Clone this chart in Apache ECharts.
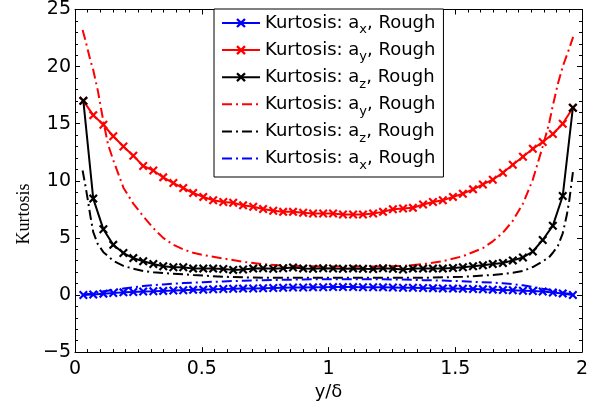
<!DOCTYPE html>
<html><head><meta charset="utf-8">
<script src="https://cdn.jsdelivr.net/npm/echarts@6/dist/echarts.min.js"></script>
<style>html,body{margin:0;padding:0;background:#fff}#c{width:605px;height:406px}</style>
</head><body><div id="c"></div>
<script>
// x positions of the marked (solid) curves
const xMarked = [0.033, 0.072, 0.112, 0.151, 0.191, 0.230, 0.269, 0.309, 0.348, 0.388,
  0.427, 0.466, 0.506, 0.545, 0.585, 0.624, 0.663, 0.703, 0.742, 0.782,
  0.821, 0.860, 0.900, 0.939, 0.979, 1.018, 1.057, 1.097, 1.136, 1.176,
  1.215, 1.254, 1.294, 1.333, 1.373, 1.412, 1.451, 1.491, 1.530, 1.570,
  1.609, 1.648, 1.688, 1.727, 1.767, 1.806, 1.845, 1.885, 1.924, 1.964];
const kurtAxSolid = [0.0, 0.05, 0.12, 0.18, 0.23, 0.27, 0.3, 0.33, 0.36, 0.39,
  0.42, 0.45, 0.47, 0.5, 0.52, 0.54, 0.56, 0.57, 0.59, 0.61,
  0.63, 0.65, 0.66, 0.67, 0.68, 0.69, 0.69, 0.69, 0.68, 0.68,
  0.67, 0.66, 0.64, 0.63, 0.61, 0.6, 0.58, 0.56, 0.54, 0.52,
  0.5, 0.47, 0.44, 0.41, 0.38, 0.35, 0.3, 0.22, 0.14, 0.0];
const kurtAySolid = [17.0, 15.75, 14.9, 13.9, 13.0, 12.2, 11.3, 10.9, 10.3, 9.8,
  9.37, 8.93, 8.59, 8.3, 8.15, 8.07, 7.85, 7.72, 7.53, 7.37,
  7.28, 7.28, 7.2, 7.14, 7.14, 7.14, 7.05, 7.05, 7.05, 7.14,
  7.28, 7.51, 7.57, 7.63, 7.92, 8.15, 8.29, 8.59, 8.87, 9.25,
  9.68, 10.1, 10.7, 11.4, 12.1, 12.8, 13.4, 14.1, 15.0, 16.4];
const kurtAzSolid = [17.0, 8.44, 5.75, 4.39, 3.67, 3.23, 2.95, 2.71, 2.51, 2.43,
  2.43, 2.31, 2.31, 2.31, 2.28, 2.2, 2.23, 2.31, 2.35, 2.3,
  2.35, 2.4, 2.33, 2.3, 2.35, 2.32, 2.3, 2.33, 2.3, 2.28,
  2.35, 2.3, 2.23, 2.31, 2.31, 2.31, 2.31, 2.37, 2.43, 2.51,
  2.6, 2.71, 2.8, 3.03, 3.29, 3.81, 4.82, 6.07, 8.67, 16.4];

// x positions of the dash-dot curves
const xDash = [0.030, 0.040, 0.050, 0.060, 0.072, 0.090, 0.112, 0.130, 0.151, 0.191,
  0.230, 0.269, 0.309, 0.348, 0.388, 0.427, 0.466, 0.506, 0.585, 0.663,
  0.742, 0.821, 0.900, 0.979, 1.057, 1.136, 1.215, 1.294, 1.373, 1.451,
  1.530, 1.609, 1.648, 1.688, 1.727, 1.767, 1.806, 1.845, 1.870, 1.885,
  1.905, 1.924, 1.940, 1.950, 1.965];
const kurtAyDash = [23.2, 22.4, 21.5, 20.6, 19.7, 17.9, 15.2, 13.2, 11.8, 9.4,
  8.0, 6.9, 5.85, 5.0, 4.4, 4.0, 3.7, 3.5, 3.2, 2.9,
  2.7, 2.58, 2.52, 2.5, 2.5, 2.5, 2.5, 2.55, 2.7, 2.95,
  3.4, 4.1, 4.7, 5.45, 6.5, 8.0, 10.1, 13.0, 15.0, 16.6,
  18.5, 20.0, 21.0, 21.6, 22.6];
const kurtAzDash = [10.9, 9.7, 8.4, 7.0, 5.5, 4.45, 3.75, 3.4, 3.0, 2.55,
  2.3, 2.1, 2.0, 1.92, 1.87, 1.82, 1.75, 1.7, 1.6, 1.55,
  1.5, 1.5, 1.5, 1.5, 1.5, 1.5, 1.5, 1.5, 1.5, 1.55,
  1.6, 1.7, 1.76, 1.85, 1.95, 2.1, 2.45, 2.95, 3.3, 3.7,
  4.3, 5.4, 7.0, 8.3, 10.9];
const kurtAxDash = [0.0, 0.04, 0.08, 0.12, 0.17, 0.24, 0.32, 0.38, 0.45, 0.57,
  0.68, 0.78, 0.86, 0.93, 0.99, 1.04, 1.08, 1.12, 1.19, 1.25,
  1.3, 1.33, 1.36, 1.38, 1.38, 1.38, 1.37, 1.35, 1.3, 1.26,
  1.2, 1.12, 1.08, 1.03, 0.95, 0.85, 0.7, 0.55, 0.46, 0.4,
  0.3, 0.2, 0.13, 0.08, 0.0];

const xTickValues = [0, 0.5, 1, 1.5, 2];
const xTickLabels = ['0', '0.5', '1', '1.5', '2'];
const yTickValues = [-5, 0, 5, 10, 15, 20, 25];
const yTickLabels = ['\u22125', '0', '5', '10', '15', '20', '25'];

const seriesNames = ['axS', 'ayS', 'azS', 'ayD', 'azD', 'axD'];
const legendSub = {axS: 'x', ayS: 'y', azS: 'z', ayD: 'y', azD: 'z', axD: 'x'};

const XSYM = 'path://M0,1.7L1.7,0L5,3.3L8.3,0L10,1.7L6.7,5L10,8.3L8.3,10L5,6.7L1.7,10L0,8.3L3.3,5Z';
const DASHDOT = [10, 4, 2, 4];

function pairs(xs, ys) { return xs.map((x, i) => [x, ys[i]]); }

function lookup(vals, labs, v) {
  for (let i = 0; i < vals.length; i++) if (Math.abs(vals[i] - v) < 1e-9) return labs[i];
  return '';
}

const FONT = 'DejaVu Sans';

function solid(name, color, xs, ys) {
  return {
    name, type: 'line', data: pairs(xs, ys), symbol: XSYM, symbolSize: 9, showSymbol: true,
    lineStyle: {color, width: 2}, itemStyle: {color}, animation: false, z: 3
  };
}
function dash(name, color, xs, ys) {
  return {
    name, type: 'line', data: pairs(xs, ys), symbol: 'none',
    lineStyle: {color, width: 2, type: DASHDOT}, itemStyle: {color}, animation: false, z: 2
  };
}

const axisCommon = {
  axisLine: {show: true, onZero: false, lineStyle: {color: '#000', width: 1}},
  axisTick: {show: true, inside: true, length: 5, lineStyle: {color: '#000', width: 1}},
  splitLine: {show: false}
};

const legendData = seriesNames.map(n => n.endsWith('D') ? {name: n, itemStyle: {opacity: 0}} : {name: n});

const chart = echarts.init(document.getElementById('c'), null, {renderer: 'canvas'});
chart.setOption({
  animation: false,
  backgroundColor: '#fff',
  grid: {left: 75, right: 23, top: 9, bottom: 51, containLabel: false},
  xAxis: [
    Object.assign({}, axisCommon, {
      type: 'value', min: 0, max: 2, interval: 0.5, position: 'bottom',
      minorTick: {show: true, splitNumber: 10, length: 3, lineStyle: {color: '#000', width: 1}},
      axisLabel: {color: '#000', fontFamily: FONT, fontSize: 19, margin: 7,
        formatter: v => lookup(xTickValues, xTickLabels, v)},
      name: 'y/\u03b4', nameLocation: 'middle', nameGap: 24,
      nameTextStyle: {color: '#000', fontFamily: FONT, fontSize: 18}
    }),
    Object.assign({}, axisCommon, {
      type: 'value', min: 0, max: 2, interval: 0.5, position: 'top',
      minorTick: {show: true, splitNumber: 10, length: 3, lineStyle: {color: '#000', width: 1}},
      axisLabel: {show: false}
    })
  ],
  yAxis: [
    Object.assign({}, axisCommon, {
      type: 'value', min: -5, max: 25, interval: 5, position: 'left',
      minorTick: {show: true, splitNumber: 5, length: 3, lineStyle: {color: '#000', width: 1}},
      axisLabel: {color: '#000', fontFamily: FONT, fontSize: 19, margin: 4,
        formatter: v => lookup(yTickValues, yTickLabels, v)}
    }),
    Object.assign({}, axisCommon, {
      type: 'value', min: -5, max: 25, interval: 5, position: 'right',
      minorTick: {show: true, splitNumber: 5, length: 3, lineStyle: {color: '#000', width: 1}},
      axisLabel: {show: false}
    })
  ],
  legend: {
    orient: 'vertical', left: 214, top: 9,
    padding: [5, 8, 5, 7], itemGap: 4.6, itemWidth: 38, itemHeight: 12,
    borderColor: '#000', borderWidth: 1, backgroundColor: '#fff',
    data: legendData,
    formatter: name => '{n|Kurtosis: a}{s|' + legendSub[name] + '}{n|, Rough}',
    textStyle: {
      color: '#000', fontFamily: FONT, fontSize: 18,
      rich: {
        n: {fontFamily: FONT, fontSize: 18, color: '#000'},
        s: {fontFamily: FONT, fontSize: 13, color: '#000', padding: [14, 0, 0, 0]}
      }
    }
  },
  graphic: [{
    type: 'text', x: 24, y: 214, rotation: Math.PI / 2,
    style: {text: 'Kurtosis', font: '18px "Liberation Serif"', fill: '#000', align: 'center', verticalAlign: 'middle'}
  }],
  series: [
    solid('axS', '#0000ff', xMarked, kurtAxSolid),
    solid('ayS', '#ff0000', xMarked, kurtAySolid),
    solid('azS', '#000000', xMarked, kurtAzSolid),
    dash('ayD', '#ff0000', xDash, kurtAyDash),
    dash('azD', '#000000', xDash, kurtAzDash),
    dash('axD', '#0000ff', xDash, kurtAxDash)
  ]
});
</script>
</body></html>
